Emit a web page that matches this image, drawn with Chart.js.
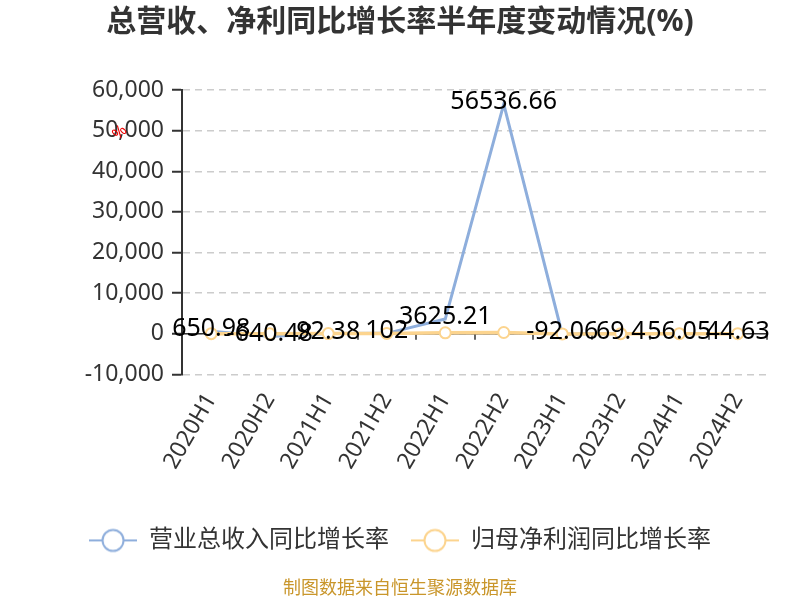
<!DOCTYPE html>
<html>
<head>
<meta charset="utf-8">
<script src="https://cdn.jsdelivr.net/npm/chart.js@4"></script>
<style>
  html, body { margin: 0; padding: 0; background: #fff; }
  #wrap { width: 800px; height: 600px; }
</style>
</head>
<body>
<div id="wrap"><canvas id="myChart"></canvas></div>
<script>
// half-year periods
const periods = ['2020H1', '2020H2', '2021H1', '2021H2', '2022H1', '2022H2', '2023H1', '2023H2', '2024H1', '2024H2'];
// 营业总收入同比增长率 (%)
const revenueGrowth = [650.98, -640.48, 92.38, 102, 3625.21, 56536.66, -92.06, 69.4, 56.05, 44.63];
// 归母净利润同比增长率 (%), values
const profitGrowth = [35.2, -20.5, 48.1, 61.3, 240.6, 310.2, -45.7, 20.3, 15.8, 12.4];
const seriesNames = ['营业总收入同比增长率', '归母净利润同比增长率'];
const yTicks = [-10000, 0, 10000, 20000, 30000, 40000, 50000, 60000];

const blue = '#8eaedc';
const orange = '#fcd48e';

Chart.defaults.font.family = '"Noto Sans", "Noto Sans CJK SC", sans-serif';

function legendIcon(color) {
  const c = document.createElement('canvas');
  c.width = 48; c.height = 26;
  const g = c.getContext('2d');
  g.strokeStyle = color;
  g.lineWidth = 2;
  g.beginPath(); g.moveTo(0, 13); g.lineTo(48, 13); g.stroke();
  g.beginPath(); g.arc(24, 13, 10.5, 0, Math.PI * 2);
  g.fillStyle = '#fff'; g.fill(); g.stroke();
  return c;
}
const icons = [legendIcon(blue), legendIcon(orange)];

// zero line with category ticks, value labels and the little "%" mark
const overlay = {
  id: 'overlay',
  beforeDatasetsDraw(chart) {
    const {ctx, chartArea, scales: {x, y}} = chart;
    const y0 = y.getPixelForValue(0);
    const half = (x.getPixelForValue(1) - x.getPixelForValue(0)) / 2;
    ctx.save();
    ctx.strokeStyle = '#333';
    ctx.lineWidth = 1.5;
    ctx.beginPath();
    ctx.moveTo(chartArea.left, y0);
    ctx.lineTo(chartArea.right, y0);
    for (let i = 0; i < periods.length; i++) {
      const bx = Math.round(x.getPixelForValue(i) + half);
      ctx.moveTo(bx, y0);
      ctx.lineTo(bx, y0 + 6);
    }
    ctx.stroke();

    ctx.translate(chartArea.left - 62, y.getPixelForValue(50000) + 2);
    ctx.rotate(-Math.PI / 4);
    ctx.fillStyle = '#e00';
    ctx.font = '16px "Noto Sans"';
    ctx.textAlign = 'center';
    ctx.textBaseline = 'middle';
    ctx.fillText('%', 0, 0);
    ctx.restore();
  },
  afterDatasetsDraw(chart) {
    const {ctx} = chart;
    const meta = chart.getDatasetMeta(0);
    ctx.save();
    ctx.font = '25px "Noto Sans"';
    ctx.fillStyle = '#000';
    ctx.textAlign = 'center';
    ctx.textBaseline = 'middle';
    meta.data.forEach((pt, i) => {
      ctx.fillText(String(revenueGrowth[i]), pt.x, pt.y - 2);
    });
    ctx.restore();
  }
};

const ctx = document.getElementById('myChart');
const myChart = new Chart(ctx, {
  type: 'line',
  data: {
    labels: periods,
    datasets: [
      {
        label: seriesNames[0],
        data: revenueGrowth,
        borderColor: blue,
        backgroundColor: blue,
        borderWidth: 3,
        pointRadius: 0,
        tension: 0,
        order: 2
      },
      {
        label: seriesNames[1],
        data: profitGrowth,
        borderColor: orange,
        backgroundColor: '#fff',
        borderWidth: 3.5,
        pointRadius: 5.5,
        pointBorderWidth: 2,
        pointBackgroundColor: '#fff',
        pointBorderColor: orange,
        tension: 0,
        order: 1
      }
    ]
  },
  options: {
    responsive: true,
    maintainAspectRatio: false,
    animation: false,
    layout: { padding: 0 },
    plugins: {
      title: {
        display: true,
        text: '总营收、净利同比增长率半年度变动情况(%)',
        color: '#333',
        font: { size: 30, weight: 'bold' },
        padding: { top: 4, bottom: 50 }
      },
      subtitle: {
        display: true,
        position: 'bottom',
        text: '制图数据来自恒生聚源数据库',
        color: '#c9962b',
        font: { size: 18 },
        padding: { top: 16, bottom: 0 }
      },
      legend: {
        position: 'bottom',
        labels: {
          color: '#333',
          font: { size: 24 },
          padding: 22,
          usePointStyle: true,
          pointStyleWidth: 48,
          sort: (a, b) => a.datasetIndex - b.datasetIndex,
          generateLabels(chart) {
            const items = Chart.defaults.plugins.legend.labels.generateLabels(chart);
            items.forEach(it => { it.pointStyle = icons[it.datasetIndex]; });
            return items;
          }
        }
      },
      tooltip: { enabled: false }
    },
    scales: {
      x: {
        offset: true,
        grid: { display: false, drawTicks: false },
        border: { display: false },
        ticks: {
          color: '#333',
          font: { size: 23 },
          minRotation: 60,
          maxRotation: 60,
          autoSkip: false,
          padding: 14
        },
        afterFit(scale) { scale.height = 132; }
      },
      y: {
        min: yTicks[0],
        max: yTicks[yTicks.length - 1],
        afterBuildTicks(scale) { scale.ticks = yTicks.map(v => ({ value: v })); },
        ticks: {
          color: '#333',
          font: { size: 23 },
          padding: 8,
          callback: v => v.toLocaleString('en-US')
        },
        grid: {
          color: '#cccccc',
          lineWidth: 1.5,
          tickColor: '#333',
          tickLength: 10,
          tickWidth: 2,
          tickBorderDash: []
        },
        border: { display: true, color: '#333', width: 2, dash: [7, 5] },
        afterFit(scale) { scale.width = 182; }
      },
      // empty right-hand axis, only keeps the plot clear of the right edge
      yRight: {
        position: 'right',
        min: yTicks[0],
        max: yTicks[yTicks.length - 1],
        ticks: { display: false },
        grid: { display: false, drawTicks: false },
        border: { display: false },
        afterFit(scale) { scale.width = 33; }
      }
    }
  },
  plugins: [overlay]
});
</script>
</body>
</html>
